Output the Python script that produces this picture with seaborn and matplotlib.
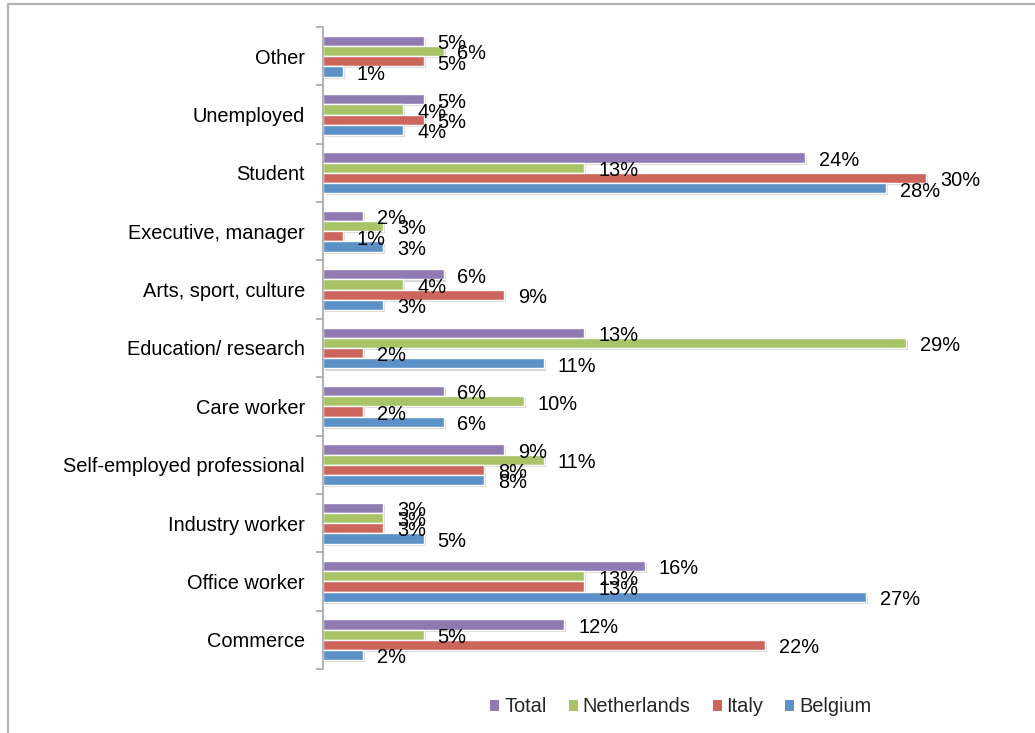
import matplotlib
matplotlib.use("Agg")
import matplotlib.pyplot as plt
import matplotlib.patheffects as pe
from matplotlib.lines import Line2D
from matplotlib.patches import Patch
from matplotlib.ticker import FixedLocator
import pandas as pd
import seaborn as sns

# Occupation categories, top to bottom
categories = [
    "Other", "Unemployed", "Student", "Executive, manager",
    "Arts, sport, culture", "Education/ research", "Care worker",
    "Self-employed professional", "Industry worker", "Office worker",
    "Commerce",
]
series_names = ["Total", "Netherlands", "Italy", "Belgium"]

# Share of respondents per occupation (%)
total = [5, 5, 24, 2, 6, 13, 6, 9, 3, 16, 12]
netherlands = [6, 4, 13, 3, 4, 29, 10, 11, 3, 13, 5]
italy = [5, 5, 30, 1, 9, 2, 2, 8, 3, 13, 22]
belgium = [1, 4, 28, 3, 3, 11, 6, 8, 5, 27, 2]

colors = ["#8f7bb2", "#a9c466", "#cc655b", "#5b91c7"]

rows = []
for name, vals in zip(series_names, [total, netherlands, italy, belgium]):
    for cat, v in zip(categories, vals):
        rows.append({"Occupation": cat, "Series": name, "Share": v})
df = pd.DataFrame(rows)

sns.set_theme(style="white")
plt.rcParams["font.family"] = ["Liberation Sans", "DejaVu Sans"]

FS = 14.4
fig = plt.figure(figsize=(10.35, 7.33), dpi=100)
ax = fig.add_axes([323 / 1035, 64 / 733, 677 / 1035, 642 / 733])

sns.barplot(
    data=df, y="Occupation", x="Share", hue="Series",
    order=categories, hue_order=series_names, palette=colors,
    saturation=1, orient="h", width=0.7, edgecolor="white", linewidth=1.0,
    legend=False, ax=ax,
)

shadow = [pe.SimplePatchShadow(offset=(1.5, -1.5), shadow_rgbFace="#888888", alpha=0.35),
          pe.Normal()]
for cont in ax.containers:
    for bar in cont:
        bar.set_path_effects(shadow)
    labels = ax.bar_label(cont, fmt="{:.0f}%", padding=10, fontsize=FS, color="black")
    # value labels sit a touch below the bar centre
    for t in labels:
        t.xyann = (10, -2)

ax.set_xlim(0, 677 / 20.1)
ax.set_ylim(len(categories) - 0.5, -0.5)
ax.set_xlabel("")
ax.set_ylabel("")
ax.set_xticks([])

for side in ["top", "right", "bottom"]:
    ax.spines[side].set_visible(False)
ax.spines["left"].set_color("#a6a6a6")
ax.spines["left"].set_linewidth(1.2)

ax.yaxis.set_minor_locator(FixedLocator([i - 0.5 for i in range(len(categories) + 1)]))
ax.tick_params(axis="y", which="major", length=0, pad=13, labelsize=FS, labelcolor="black")
ax.tick_params(axis="y", which="minor", length=5, width=1.2, color="#a6a6a6", direction="out", left=True)

handles = [Patch(facecolor=c, edgecolor="none") for c in colors]
fig.legend(
    handles, series_names, loc="center", bbox_to_anchor=(681 / 1035, 26 / 733),
    ncol=4, frameon=False, fontsize=FS, handlelength=0.45, handleheight=0.45,
    handletextpad=0.25, columnspacing=1.1,
)

# Outer chart frame (top and left edges)
fig.add_artist(Line2D([8 / 1035, 1.0], [1 - 3.5 / 733, 1 - 3.5 / 733],
                      transform=fig.transFigure, color="#b3b3b3", linewidth=1.6))
fig.add_artist(Line2D([8 / 1035, 8 / 1035], [0.0, 1 - 3.5 / 733],
                      transform=fig.transFigure, color="#b3b3b3", linewidth=1.6))

fig.savefig("out.png", dpi=100, facecolor="white")
